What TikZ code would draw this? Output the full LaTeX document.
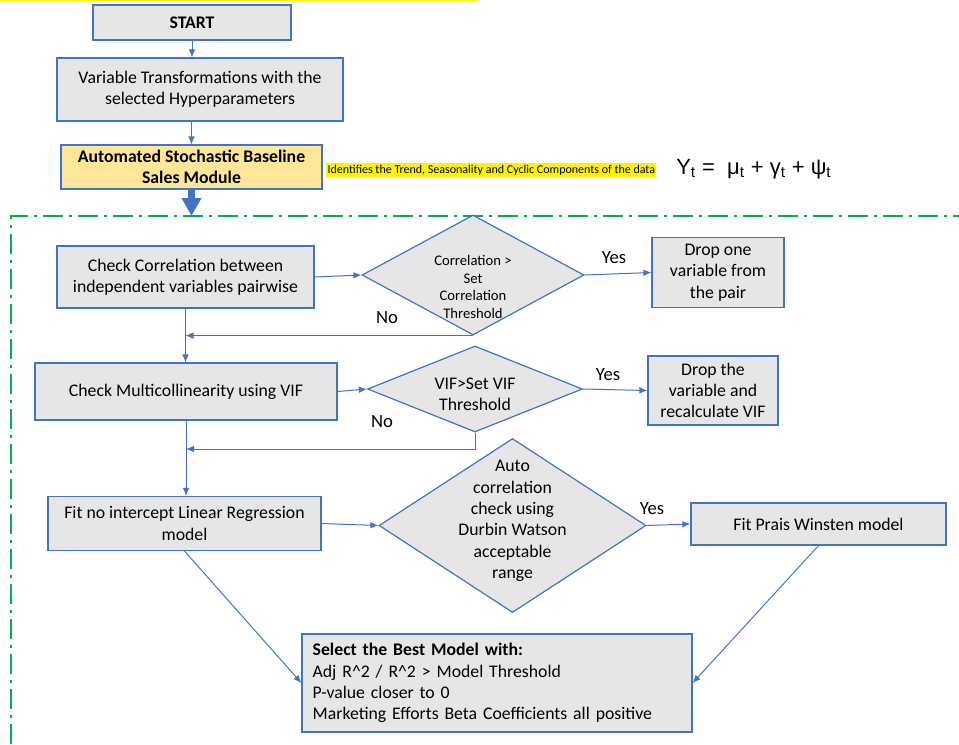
\documentclass[tikz,border=0pt]{standalone}
\usepackage{fontspec}
\setmainfont{Carlito}
\newfontfamily\arialfont{Liberation Sans}
\usetikzlibrary{shapes.geometric}
\usetikzlibrary{arrows.meta}
\definecolor{boxblue}{HTML}{4472C4}
\definecolor{boxgray}{HTML}{E7E6E6}
\definecolor{boxgold}{HTML}{FFE699}
\definecolor{dashgreen}{HTML}{00B050}
\newcommand{\bodysize}{\fontsize{13.3}{16}\selectfont}

\begin{document}
\begin{tikzpicture}[x=0.75pt,y=-0.75pt,
        box/.style={draw=boxblue,fill=boxgray,line width=0.9pt,font=\bodysize,align=center,inner sep=0pt},
        dia/.style={diamond,draw=boxblue,fill=boxgray,line width=0.9pt,inner sep=0pt},
        arr/.style={draw=boxblue,line width=0.75pt,-{Latex[length=6pt,width=5pt]}},
        yn/.style={font=\fontsize{14}{16}\selectfont}]
        \useasboundingbox (0,0) rectangle (959,744);
        \draw[yellow,line width=1.1pt] (0,0.75) -- (478,0.75);
        \node[box,minimum width=148.5pt,minimum height=26.25pt,font=\bodysize\bfseries] (start) at (192,22.5) {START};
        \node[box,minimum width=214.5pt,minimum height=47.25pt] (var) at (200,89.5) {Variable Transformations with the\\selected Hyperparameters};
        \node[box,fill=boxgold,minimum width=195.75pt,minimum height=33pt,font=\bodysize\bfseries] (asb) at (191.5,167) {Automated Stochastic Baseline\\Sales Module};
        \node[fill=yellow,anchor=west,inner xsep=1pt,inner ysep=1.5pt,font=\fontsize{9}{10}\selectfont] (note) at (326,170) {Identifies the Trend, Seasonality and Cyclic Components of the data};
        \node[anchor=west,inner sep=0pt,font=\arialfont\fontsize{16.5}{18}\selectfont] (eqn) at (676,169) {Y\textsubscript{t} =\ \ μ\textsubscript{t} + γ\textsubscript{t} + ψ\textsubscript{t}};
        \coordinate (gtop) at (191,216);
        \draw[dashgreen,line width=2pt,dash pattern=on 15pt off 4.5pt on 2.25pt off 4.5pt] (11,744) -- (11,216) -- (959,216);
        \draw[boxblue,line width=5.25pt,-{Triangle[width=14pt,length=13.5pt]}] (asb.south) -- (asb.south |- gtop);
        \node[box,minimum width=192.75pt,minimum height=46.5pt] (corr) at (185.5,277) {Check Correlation between\\independent variables pairwise};
        \node[dia,minimum width=166.5pt,minimum height=90pt] (d1) at (473,275) {};
        \node[font=\fontsize{11}{13.3}\selectfont,align=center] (d1txt) at (473,287) {Correlation >\\Set\\Correlation\\Threshold};
        \node[box,minimum width=99pt,minimum height=52.5pt] (drop1) at (718,272.5) {Drop one\\variable from\\the pair};
        \node[box,minimum width=226.5pt,minimum height=42.75pt] (multi) at (186,391.5) {Check Multicollinearity using VIF};
        \node[dia,minimum width=161.25pt,minimum height=64.5pt] (d2) at (475,389) {};
        \node[font=\bodysize,align=center] (d2txt) at (475,394) {VIF>Set VIF\\Threshold};
        \node[box,minimum width=97.5pt,minimum height=51.75pt] (drop2) at (713,390.5) {Drop the\\variable and\\recalculate VIF};
        \node[box,minimum width=204.75pt,minimum height=40.5pt] (fit) at (184.5,523.5) {Fit no intercept Linear Regression\\model};
        \node[dia,minimum width=200.25pt,minimum height=130.5pt] (d3) at (512.5,525.5) {};
        \node[font=\bodysize,align=center] (d3txt) at (512.5,521) {Auto\\correlation\\check using\\Durbin Watson\\acceptable\\range};
        \node[box,minimum width=191.25pt,minimum height=31.5pt] (prais) at (818.5,524) {Fit Prais Winsten model};
        \node[box,minimum width=292.5pt,minimum height=73.5pt,text width=276.5pt,inner xsep=8pt,align=left] (best) at (497,683) {\textbf{Select the Best Model with:}\\Adj R\textasciicircum 2 / R\textasciicircum 2 > Model Threshold\\P-value closer to 0\\Marketing Efforts Beta Coefficients all positive};
        \draw[arr] (start.south) -- (start.south |- var.north);
        \draw[arr] (asb.north |- var.south) -- (asb.north);
        \draw[arr] (corr.east) -- (d1.west);
        \draw[arr] (d1.east) -- (drop1.west);
        \draw[arr] (d1.south) -- (d1.south -| corr.south);
        \draw[arr] (corr.south) -- (corr.south |- multi.north);
        \draw[arr] (multi.east) -- (d2.west);
        \draw[arr] (d2.east) -- (drop2.west);
        \coordinate (nojoin) at (186,449);
        \draw[arr] (d2.south) |- (nojoin);
        \draw[arr] (multi.south) -- (multi.south |- fit.north);
        \draw[arr] (fit.east) -- (d3.west);
        \draw[arr] (d3.east) -- (prais.west);
        \draw[arr] (fit.south) -- (best.west);
        \draw[arr] (prais.south) -- (best.east);
        \node[yn] (yes1) at (614,258) {Yes};
        \node[yn] (yes2) at (608,375) {Yes};
        \node[yn] (yes3) at (652,509) {Yes};
        \node[yn] (no1) at (387,318) {No};
        \node[yn] (no2) at (382,422) {No};
\end{tikzpicture}
\end{document}
